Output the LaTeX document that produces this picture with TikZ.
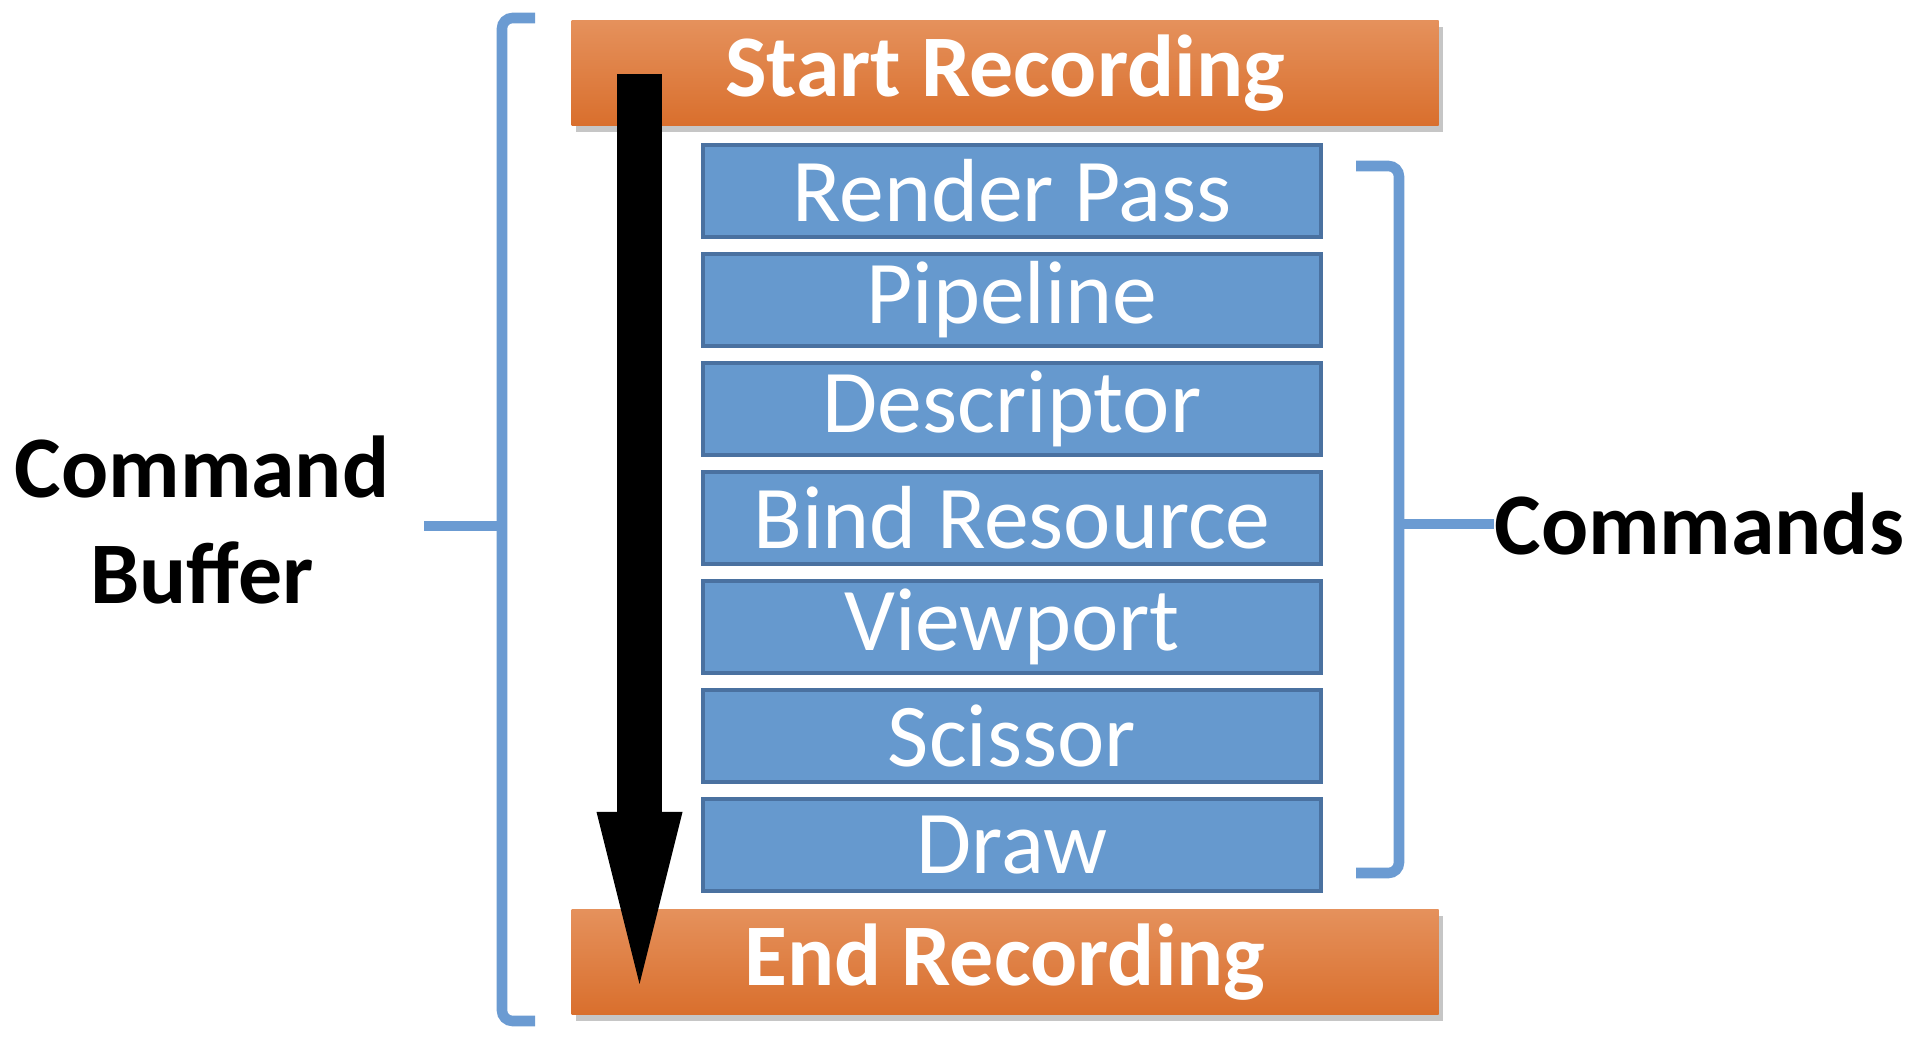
\documentclass[tikz,border=0pt]{standalone}
\usepackage{fontspec}
\setmainfont{Carlito}
\usetikzlibrary{positioning,arrows.meta,shadows}

\definecolor{rectop}{HTML}{E5915C}
\definecolor{recbot}{HTML}{D96F2D}
\definecolor{cmdblue}{HTML}{6699CE}
\definecolor{cmdedge}{HTML}{4A71A0}
\definecolor{bracecol}{HTML}{6B9BD2}

\begin{document}
\begin{tikzpicture}[
  recbox/.style={rectangle,top color=rectop,bottom color=recbot,
                 minimum width=8.67cm,minimum height=1.05cm,text=white,
                 font=\fontsize{25}{30}\selectfont\bfseries,
                 drop shadow={opacity=0.45,shadow xshift=0.04cm,shadow yshift=-0.07cm}},
  cmdbox/.style={draw=cmdedge,line width=1.2pt,fill=cmdblue,inner sep=0pt,
                 minimum width=6.18cm,minimum height=0.92cm,text=white,
                 font=\fontsize{25.5}{30}\selectfont},
  lbl/.style={font=\fontsize{25}{30}\selectfont\bfseries,align=center},
  brk/.style={draw=bracecol,line width=3pt,rounded corners=3pt},
  >={Triangle[width=0.86cm,length=1.72cm,line width=0pt]}
]
  \useasboundingbox (0,0) rectangle (19.28,-10.52);

  %% ===== Recording boxes =====
  \node[recbox] (start) at (10.05,-0.73) {Start Recording};
  \node[recbox] (end) at (10.05,-9.62) {End Recording};

  %% ===== Commands =====
  \foreach \i/\name in {0/Render Pass,1/Pipeline,2/Descriptor,3/Bind Resource,
                        4/Viewport,5/Scissor,6/Draw} {
    \node[cmdbox] (cmd\i) at (10.12,{-1.91-1.09*\i}) {\name};
  }

  %% ===== Labels =====
  \node[lbl] (cbuf) at (2.02,-5.2) {Command\\Buffer};
  \node[lbl,anchor=west,inner sep=0pt] (cmds) at (14.94,-5.24) {Commands};

  % left bracket (whole buffer)
  \coordinate (lb) at (5.02,-5.26);
  \coordinate (lbend) at (4.24,-5.26);
  \draw[brk] (5.35,-0.18) -- (5.02,-0.18) -- (5.02,-10.21) -- (5.35,-10.21);
  \draw[brk] (lb) -- (lbend);

  % right bracket (commands)
  \coordinate (rb) at (13.99,-5.24);
  \draw[brk] (13.56,-1.66) -- (13.99,-1.66) -- (13.99,-8.73) -- (13.56,-8.73);
  \draw[brk] (rb) -- (cmds.west);

  %% ===== Flow arrow =====
  \coordinate (atop) at (6.395,-0.74);
  \coordinate (abot) at (6.395,-9.84);
  \draw[->,line width=0.45cm] (atop) -- (abot);

\end{tikzpicture}
\end{document}
